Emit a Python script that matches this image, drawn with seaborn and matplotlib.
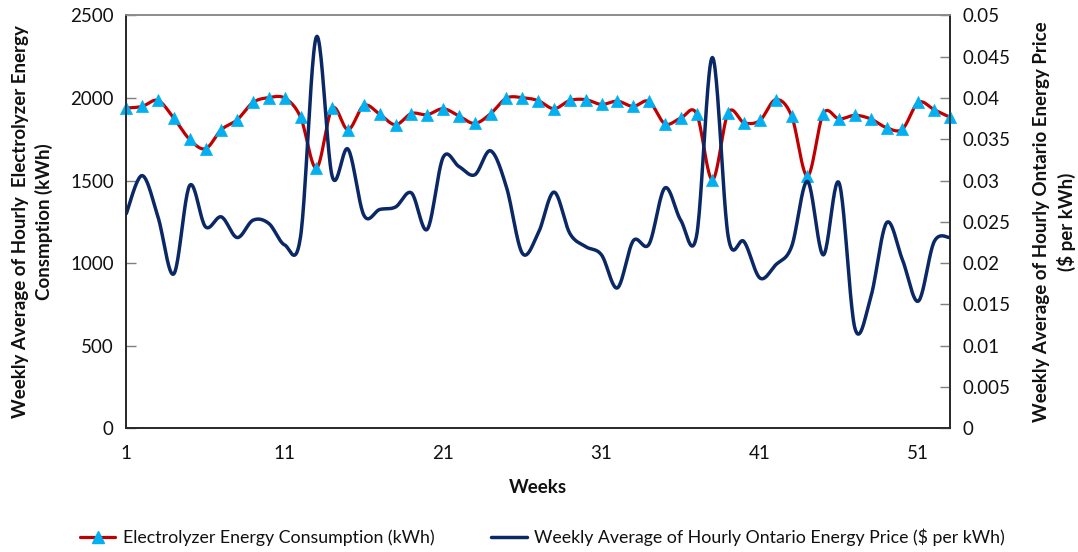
import numpy as np
import matplotlib
matplotlib.use("Agg")
import matplotlib.pyplot as plt
import seaborn as sns
import pandas as pd
from matplotlib.lines import Line2D

# ---------------- data ----------------
weeks = list(range(1, 54))
electrolyzer_kwh = [1939, 1949, 1985, 1878, 1749, 1693, 1808, 1868, 1973, 2002,
                    1999, 1884, 1576, 1937, 1808, 1955, 1901, 1838, 1906, 1899,
                    1935, 1891, 1846, 1905, 1999, 2002, 1984, 1935, 1985, 1990,
                    1961, 1981, 1949, 1979, 1844, 1878, 1905, 1505, 1911, 1850,
                    1864, 1990, 1891, 1527, 1905, 1873, 1895, 1873, 1820, 1812,
                    1973, 1929, 1883]
price_per_kwh = [0.0260, 0.0306, 0.0256, 0.0187, 0.0294, 0.0244, 0.0256, 0.0231, 0.0252, 0.0248,
                 0.0222, 0.0232, 0.0474, 0.0305, 0.0338, 0.0258, 0.0265, 0.0268, 0.0285, 0.0241,
                 0.0328, 0.0317, 0.0307, 0.0336, 0.0292, 0.0212, 0.0236, 0.0286, 0.0236, 0.0220,
                 0.0210, 0.0170, 0.0227, 0.0223, 0.0291, 0.0252, 0.0233, 0.0449, 0.0232, 0.0226,
                 0.0182, 0.0198, 0.0220, 0.0299, 0.0210, 0.0297, 0.0121, 0.0159, 0.0249, 0.0204,
                 0.0154, 0.0226, 0.0231]
x_tick_labels = [1, 11, 21, 31, 41, 51]
left_ticks = [0, 500, 1000, 1500, 2000, 2500]
right_ticks = [0, 0.005, 0.01, 0.015, 0.02, 0.025, 0.03, 0.035, 0.04, 0.045, 0.05]

series1_name = "Electrolyzer Energy Consumption (kWh)"
series2_name = "Weekly Average of Hourly Ontario Energy Price ($ per kWh)"

RED = "#C00000"
MARK = "#00B0F0"
NAVY = "#0B2866"


def smooth(x, y, n=24):
    """Excel-like smoothed line: cubic Bezier through the data points."""
    x = np.asarray(x, float)
    y = np.asarray(y, float)
    px = np.concatenate([[x[0]], x, [x[-1]]])
    py = np.concatenate([[y[0]], y, [y[-1]]])
    t = np.linspace(0, 1, n, endpoint=False)
    xs, ys = [], []
    for i in range(1, len(px) - 2):
        p1x, p1y = px[i], py[i]
        p2x, p2y = px[i + 1], py[i + 1]
        c1x = p1x + (px[i + 1] - px[i - 1]) / 6
        c1y = p1y + (py[i + 1] - py[i - 1]) / 6
        c2x = p2x - (px[i + 2] - px[i]) / 6
        c2y = p2y - (py[i + 2] - py[i]) / 6
        a = (1 - t) ** 3
        b = 3 * (1 - t) ** 2 * t
        c = 3 * (1 - t) * t ** 2
        d = t ** 3
        xs.append(a * p1x + b * c1x + c * c2x + d * p2x)
        ys.append(a * p1y + b * c1y + c * c2y + d * p2y)
    xs.append([x[-1]])
    ys.append([y[-1]])
    return np.concatenate(xs), np.concatenate(ys)


sns.set_theme(style="white")
plt.rcParams['font.family'] = ['Lato', 'DejaVu Sans']

fig = plt.figure(figsize=(10.78, 5.52), dpi=100)
L, R, T, B = 126.3, 950.0, 15.4, 428.3
ax = fig.add_axes([L / 1078, 1 - B / 552, (R - L) / 1078, (B - T) / 552])
ax2 = ax.twinx()

sx, sy = smooth(weeks, electrolyzer_kwh)
sns.lineplot(x=sx, y=sy, ax=ax, color=RED, linewidth=2.3, sort=False, estimator=None)
sns.scatterplot(x=weeks, y=electrolyzer_kwh, ax=ax, marker="^", color=MARK, s=75,
                edgecolor=MARK, linewidth=0.5, zorder=5, clip_on=False)

px_, py_ = smooth(weeks, price_per_kwh)
sns.lineplot(x=px_, y=py_, ax=ax2, color=NAVY, linewidth=2.5, sort=False, estimator=None)

ax.set_xlim(1, 53)
ax.set_ylim(0, 2500)
ax2.set_ylim(0, 0.05)
ax.set_xticks(x_tick_labels)
ax.set_xticklabels([str(v) for v in x_tick_labels])
ax.set_yticks(left_ticks)
ax.set_yticklabels([str(v) for v in left_ticks])
ax2.set_yticks(right_ticks)
ax2.set_yticklabels(["0" if v == 0 else f"{v:g}" for v in right_ticks])

for a in (ax, ax2):
    for s in ("left", "right", "bottom"):
        a.spines[s].set_color("#262626")
        a.spines[s].set_linewidth(1.2)
    a.spines["top"].set_color("#8c8c8c")
    a.spines["top"].set_linewidth(1.2)
    a.grid(False)

ax.tick_params(axis="y", direction="in", length=7, width=1, color="#7f7f7f",
               labelsize=13.5, labelcolor="#111111", pad=9)
ax.tick_params(axis="x", direction="in", length=6, width=1, color="#7f7f7f",
               labelsize=13.5, labelcolor="#111111", pad=12)
ax2.tick_params(axis="y", direction="in", length=7, width=1, color="#7f7f7f",
                labelsize=13.5, labelcolor="#111111", pad=9)

ax.set_xlabel("Weeks", fontsize=13.5, fontweight="bold", color="#111111", labelpad=12)
ax.set_ylabel("Weekly Average of Hourly  Electrolyzer Energy\nConsmption (kWh)",
              fontsize=13.5, fontweight="bold", color="#111111", labelpad=12, linespacing=1.45)
ax2.set_ylabel("Weekly Average of Hourly Ontario Energy Price\n($ per kWh)",
               fontsize=13.5, fontweight="bold", color="#111111", labelpad=16, linespacing=1.45)

handles = [
    Line2D([0], [0], color=RED, linewidth=2.3, marker="^", markersize=8,
           markerfacecolor=MARK, markeredgecolor=MARK),
    Line2D([0], [0], color=NAVY, linewidth=2.5),
]
leg = fig.legend(handles, [series1_name, series2_name], loc="center", ncol=2,
                 bbox_to_anchor=(0.503, 1 - 537 / 552), frameon=False, fontsize=12.8,
                 handlelength=2.0, columnspacing=3.2, handletextpad=0.4)
for txt in leg.get_texts():
    txt.set_color("#111111")

fig.savefig("out.png", dpi=100)
